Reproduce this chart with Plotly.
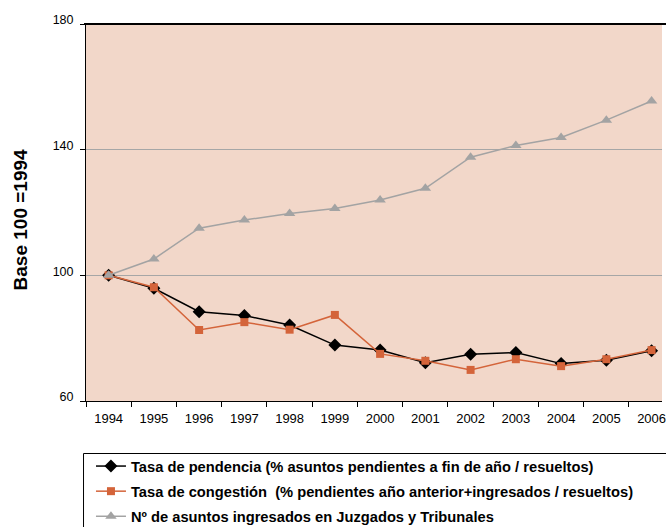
import plotly.graph_objects as go

years = ["1994", "1995", "1996", "1997", "1998", "1999", "2000",
         "2001", "2002", "2003", "2004", "2005", "2006"]
tasa_pendencia = [100, 95.9, 88.4, 87.2, 84.2, 77.8, 76.2, 72.2, 74.9, 75.4, 71.9, 73.0, 76.0]
tasa_congestion = [100, 96.2, 82.6, 85.1, 82.7, 87.4, 75.0, 72.8, 69.9, 73.3, 71.1, 73.3, 76.2]
asuntos_ingresados = [100, 105.2, 115.0, 117.6, 119.7, 121.3, 124.0, 127.7, 137.6, 141.3, 143.9, 149.4, 155.5]

names = [
    "Tasa de pendencia (% asuntos pendientes a fin de año / resueltos)",
    "Tasa de congestión  (% pendientes año anterior+ingresados / resueltos)",
    "Nº de asuntos ingresados en Juzgados y Tribunales",
]

# figure is taller than the 527px window; the extra part lies below the visible area
W, H = 666, 570
L, R, T, B = 86, 0, 24, 570 - 401
PW, PH = W - L - R, H - T - B

def px_x(p):  # page pixel -> paper x
    return (p - L) / PW

def px_y(p):  # page pixel -> paper y
    return (H - B - p) / PH

FONT = "Liberation Sans, Arial, sans-serif"

fig = go.Figure()
fig.add_trace(go.Scatter(
    x=years, y=tasa_pendencia, name=names[0], mode="lines+markers", legendgroup="a",
    line=dict(color="#000000", width=1.5),
    marker=dict(symbol="diamond", size=10, color="#000000")))
fig.add_trace(go.Scatter(
    x=years, y=tasa_congestion, name=names[1], mode="lines+markers", legendgroup="b",
    line=dict(color="#D4643A", width=1.5),
    marker=dict(symbol="square", size=8, color="#D4643A")))
fig.add_trace(go.Scatter(
    x=years, y=asuntos_ingresados, name=names[2], mode="lines+markers", legendgroup="c",
    line=dict(color="#A3A3A3", width=1.5),
    marker=dict(symbol="triangle-up", size=10, color="#A3A3A3")))

fig.update_layout(
    width=W, height=H,
    margin=dict(l=L, r=R, t=T, b=B, pad=0),
    paper_bgcolor="#FFFFFF",
    plot_bgcolor="#F2D7C9",
    font=dict(family=FONT, color="#000000"),
    showlegend=True,
    legend=dict(
        x=px_x(91), y=px_y(450), xanchor="left", yanchor="top",
        orientation="v", bgcolor="rgba(0,0,0,0)", borderwidth=0,
        font=dict(size=14.7, family=FONT, color="#000000", weight="bold"),
        tracegroupgap=3, itemwidth=30,
    ),
    xaxis=dict(
        type="category", range=[-0.5, 12.23], tickson="boundaries",
        ticks="outside", ticklen=5, tickcolor="#000000", tickwidth=1,
        showline=True, linecolor="#000000", linewidth=1,
        showgrid=False, zeroline=False, ticklabelstandoff=5,
        tickfont=dict(size=13, color="#000000"),
    ),
    yaxis=dict(
        range=[60, 180], tickvals=[60, 100, 140, 180],
        ticks="outside", ticklen=5, tickcolor="#000000", tickwidth=1,
        showline=True, linecolor="#000000", linewidth=1,
        showgrid=True, gridcolor="#A6A6A6", gridwidth=1, zeroline=False,
        ticklabelstandoff=4, ticklabelshift=-4,
        tickfont=dict(size=12.5, color="#000000"),
    ),
    shapes=[
        dict(type="line", xref="paper", yref="paper", x0=px_x(84), x1=1.02, y0=1, y1=1,
             line=dict(color="#000000", width=2)),
        dict(type="rect", xref="paper", yref="paper",
             x0=px_x(83.5), x1=px_x(700), y0=px_y(453.5), y1=px_y(560),
             line=dict(color="#000000", width=1), fillcolor="rgba(0,0,0,0)", layer="above"),
    ],
    annotations=[
        dict(text="<b>Base 100 =1994</b>", textangle=-90, xref="paper", yref="paper",
             x=px_x(20), y=px_y(220), xanchor="center", yanchor="middle", showarrow=False,
             font=dict(size=19, family=FONT, color="#000000")),
    ],
)

fig.write_html(
    "out.html",
    config={"displayModeBar": False},
    post_script=(
        "document.documentElement.style.overflow='hidden';"
        "document.body.style.margin='0';document.body.style.overflow='hidden';"
    ),
)
